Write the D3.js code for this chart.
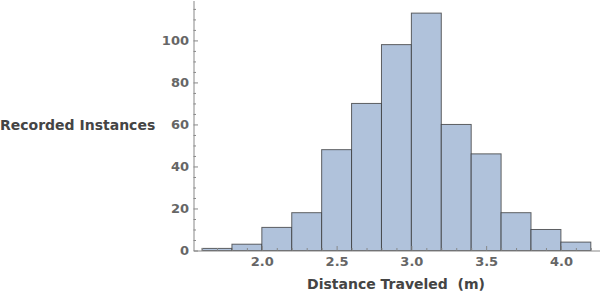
<!DOCTYPE html>
<html>
<head>
<meta charset="utf-8">
<script src="https://cdn.jsdelivr.net/npm/d3@7"></script>
<style>
  body { margin: 0; background: #fff; }
  svg { display: block; font-family: "DejaVu Sans", sans-serif; font-weight: bold; }
</style>
</head>
<body>
<svg id="chart" width="600" height="294"></svg>
<script>
// histogram bins, 0.2 m wide
const binStarts = [1.6, 1.8, 2.0, 2.2, 2.4, 2.6, 2.8, 3.0, 3.2, 3.4, 3.6, 3.8, 4.0];
const counts = [1, 3, 11, 18, 48, 70, 98, 113, 60, 46, 18, 10, 4];
const binWidth = 0.2;

const xTicks = [2.0, 2.5, 3.0, 3.5, 4.0];
const yTicks = [0, 20, 40, 60, 80, 100];

const svg = d3.select("#chart");

// plot frame (axes meet at 193.5, 250.5)
const x = d3.scaleLinear().domain([1.543, 4.258]).range([193.5, 599.5]);
const y = d3.scaleLinear().domain([0, 119]).range([250.5, 0.5]);

// bars
svg.append("g")
  .selectAll("rect")
  .data(binStarts.map((s, i) => ({ x0: s, x1: s + binWidth, n: counts[i] })))
  .join("rect")
  .attr("x", d => x(d.x0))
  .attr("width", d => x(d.x1) - x(d.x0))
  .attr("y", d => y(d.n))
  .attr("height", d => y(0) - y(d.n))
  .attr("fill", "#b0c2db")
  .attr("stroke", "#333")
  .attr("stroke-opacity", 0.75)
  .attr("stroke-width", 1);

// minor ticks
const xMinor = d3.range(16, 43).map(v => v / 10).filter(v => v % 0.5 !== 0);
const yMinor = d3.range(0, 120, 5).filter(v => v % 20 !== 0);

svg.append("g")
  .attr("transform", `translate(0,${y(0)})`)
  .call(d3.axisBottom(x).tickValues(xMinor).tickSize(-2.5).tickSizeOuter(0).tickFormat(""))
  .call(g => g.select(".domain").remove())
  .call(g => g.selectAll("line").attr("stroke", "#888"));

svg.append("g")
  .attr("transform", `translate(${x.range()[0]},0)`)
  .call(d3.axisLeft(y).tickValues(yMinor).tickSize(-2.5).tickSizeOuter(0).tickFormat(""))
  .call(g => g.select(".domain").remove())
  .call(g => g.selectAll("line").attr("stroke", "#888"));

// major axes
const xAxis = svg.append("g")
  .attr("transform", `translate(0,${y(0)})`)
  .call(d3.axisBottom(x).tickValues(xTicks).tickFormat(d3.format(".1f"))
    .tickSize(-4.5).tickSizeOuter(0).tickPadding(6.5));

const yAxis = svg.append("g")
  .attr("transform", `translate(${x.range()[0]},0)`)
  .call(d3.axisLeft(y).tickValues(yTicks).tickSize(-4.5).tickSizeOuter(0).tickPadding(4.5));

[xAxis, yAxis].forEach(g => {
  g.select(".domain").attr("stroke", "#888");
  g.selectAll(".tick line").attr("stroke", "#888");
  g.selectAll("text")
    .attr("fill", "#666")
    .style("font-size", "13px")
    .style("font-weight", "bold")
    .style("font-family", "DejaVu Sans, sans-serif");
});

// axis titles
svg.append("text")
  .attr("x", 0)
  .attr("y", 130)
  .attr("fill", "#444")
  .style("font-size", "14px")
  .text("Recorded Instances");

svg.append("text")
  .attr("x", 396)
  .attr("y", 288.5)
  .attr("text-anchor", "middle")
  .attr("fill", "#444")
  .style("font-size", "14px")
  .style("white-space", "pre")
  .text("Distance Traveled  (m)");
</script>
</body>
</html>
